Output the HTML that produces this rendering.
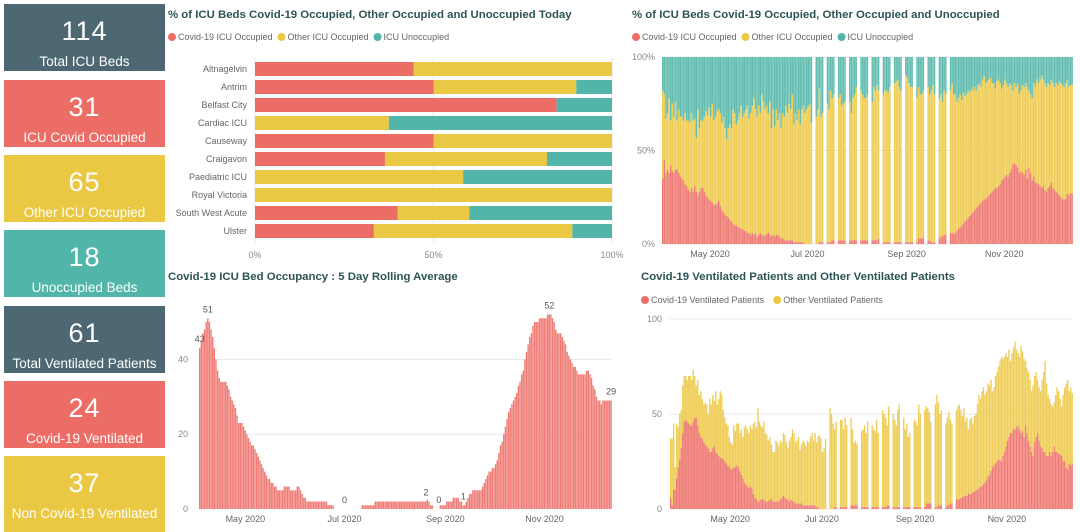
<!DOCTYPE html>
<html><head><meta charset="utf-8">
<style>
body{margin:0;width:1080px;height:532px;overflow:hidden;background:#fff;font-family:"Liberation Sans",sans-serif;position:relative}
.card{position:absolute;left:4px;width:161px;color:#fff;text-align:center}
.card .v{font-size:27px;line-height:27px;margin-top:14px;letter-spacing:1px}
.card .l{font-size:13.5px;margin-top:9px;white-space:nowrap}
svg{position:absolute;left:0;top:0}
svg text{font-family:"Liberation Sans",sans-serif}
</style></head><body>
<div class="card" style="top:4px;height:67px;background:#4e6873"><div class="v">114</div><div class="l">Total ICU Beds</div></div>
<div class="card" style="top:80px;height:67px;background:#ec6c66"><div class="v">31</div><div class="l">ICU Covid Occupied</div></div>
<div class="card" style="top:155px;height:67px;background:#eac843"><div class="v">65</div><div class="l">Other ICU Occupied</div></div>
<div class="card" style="top:230px;height:67px;background:#52b5a9"><div class="v">18</div><div class="l">Unoccupied Beds</div></div>
<div class="card" style="top:306px;height:67px;background:#4e6873"><div class="v">61</div><div class="l">Total Ventilated Patients</div></div>
<div class="card" style="top:381px;height:67px;background:#ec6c66"><div class="v">24</div><div class="l">Covid-19 Ventilated</div></div>
<div class="card" style="top:456px;height:76px;background:#eac843"><div class="v">37</div><div class="l">Non Covid-19 Ventilated</div></div>

<svg id="s" width="1080" height="532"></svg>
<script>
// ---------- data: hospital bar chart ----------
const hospitals=["Altnagelvin","Antrim","Belfast City","Cardiac ICU","Causeway","Craigavon","Paediatric ICU","Royal Victoria","South West Acute","Ulster"];
const hospCovid=[44.4,50,84.5,0,50,36.4,0,0,40,33.3];
const hospOther=[55.6,40,0,37.5,50,45.4,58.3,100,20,55.6];
const hospUnocc=[0,10,15.5,62.5,0,18.2,41.7,0,40,11.1];
const pctTicks=[0,50,100];
// ---------- data: rolling average (from 2020-04-03) ----------
const rollStart="2020-04-03";
const rollAvg=[43,45,47,48,50,51,50,48,46,43,40,37,35,34,34,34,34,33,32,30,29,28,27,25,23,23,23,22,
21,20,19,18,17,17,16,15,14,13,12,11,10,9,8,8,7,7,6,6,5,5,5,5,6,6,6,6,5,5,5,
5,6,6,5,4,3,3,2,2,2,2,2,2,2,2,2,2,2,2,2,1,1,1,1,0,0,0,0,0,0,
0,0,0,0,0,0,0,0,0,0,0,1,1,1,1,1,1,1,1,2,2,2,2,2,2,2,2,2,2,2,2,
2,2,2,2,2,2,2,2,2,2,2,2,2,2,2,2,2,2,2,2,2.5,2,1,1,0,0,0,0,1,1,1,
1,2,2,2,2,3,3,3,3,2,2,1,1,2,3,4,4,5,5,5,5,5,5,6,7,8,9,10,10,11,
11,12,13,15,17,18,20,22,24,26,27,28,29,30,31,33,34,36,37,40,42,44,46,47,49,50,50,50,51,51,51,
51,51,52,52,52,51,50,48,47,47,47,46,45,44,42,41,40,39,38,38,37,36,36,36,36,36,37,37,36,35,
33,32,30,29,29,28,29,29,29,29,29,29];
const rollLabelDates=["2020-04-03","2020-04-08","2020-07-01","2020-08-20","2020-08-28","2020-09-12","2020-11-04","2020-12-12"];
const rollTicks=[0,20,40];
const monthTicks=["2020-05-01","2020-07-01","2020-09-01","2020-11-01"];
const monthLabels=["May 2020","Jul 2020","Sep 2020","Nov 2020"];
const missingDates=["2020-07-04","2020-07-05","2020-07-11","2020-07-12","2020-07-18","2020-07-19","2020-07-25","2020-07-26","2020-08-01","2020-08-02","2020-08-08","2020-08-09","2020-08-15","2020-08-16","2020-08-22","2020-08-23","2020-08-29","2020-08-30","2020-09-05","2020-09-06","2020-09-12","2020-09-13","2020-09-19","2020-09-20","2020-09-26","2020-09-27"];
// ---------- data: % occupancy over time (from 2020-04-01) ----------
const pctStart="2020-04-01";
const pctCovid=[35,45,38,40,38,42,39,38,40,40,38,36,35,34,32,31,29,28,30,28,31,28,26,28,30,30,28,26,25,24,
23,22,21,21,22,23,20,18,17,16,15,14,13,12,11,10,10,9,9,8,8,7,7,6,6,5,6,5,6,4,5,
6,5,4,5,5,6,5,4,5,4,5,5,4,3,3,2,2,2,2,2,2,1,1,1,1,1,1,1,0,0,
0,0,0,0,0,0,0,1,1,1,1,1,1,1,1,2,2,2,2,2,2,2,2,2,2,2,2,2,2,2,2,
2,2,2,2,2,2,2,2,2,2,2,2,2,3,3,2,1,1,1,1,1,1,1,1,1,1,1,1,1,1,1,
1,1,1,1,1,1,1,3,3,3,3,3,2,2,2,1,1,1,2,2,3,4,4,5,5,5,5,6,6,5,
6,7,8,9,10,11,12,13,14,15,16,17,18,19,20,21,22,23,24,24,25,26,27,28,29,30,30,31,32,34,35,
36,37,36,38,40,43,43,42,41,38,39,38,37,40,35,41,38,34,36,33,33,32,31,30,31,29,28,30,31,33,
30,29,28,27,26,25,24,24,24,27,26,27,27];
const pctOccupied=[82,80,67,70,78,66,75,68,76,66,72,68,68,66,70,66,66,65,70,66,67,57,72,62,66,66,68,71,69,73,
68,75,66,68,71,72,70,65,68,62,56,62,64,62,72,70,64,66,70,74,68,70,72,74,67,70,74,78,72,68,74,
70,80,76,72,74,70,76,62,72,63,72,66,70,62,70,68,74,70,75,72,80,64,70,66,72,64,72,74,70,72,
74,75,65,70,70,68,72,83,68,70,74,70,75,72,82,78,80,86,80,78,80,74,75,76,78,80,76,70,78,80,84,
84,84,82,80,78,78,80,80,80,76,84,82,85,82,80,78,80,82,82,81,84,88,80,86,87,88,84,82,88,87,90,
89,86,84,84,80,77,78,84,80,80,82,84,85,84,80,82,85,80,74,68,78,80,76,82,80,84,80,82,86,80,
80,76,78,80,77,81,79,80,82,81,83,82,84,82,85,86,84,88,90,86,87,88,89,86,86,83,87,88,86,83,85,
88,86,84,86,85,82,86,84,86,80,82,85,84,86,84,82,80,78,86,84,88,86,88,90,88,86,84,86,85,88,
86,84,86,85,87,86,85,84,86,88,84,85,85];
// ---------- data: ventilated patients (from 2020-03-22) ----------
const ventStart="2020-03-22";
const ventCovid=[6,2,10,10,16,22,26,32,40,46,
47,46,45,44,44,46,48,48,44,40,38,37,35,34,33,32,30,30,32,33,30,29,28,27,27,26,25,24,23,22,
21,21,22,22,23,22,20,18,16,14,13,12,11,12,11,8,6,5,4,4,5,5,5,4,4,4,5,5,4,4,4,
4,4,5,6,7,6,5,5,4,5,4,4,3,3,3,3,3,2,2,2,2,2,2,2,2,2,1,1,0,0,
0,0,0,0,0,0,0,0,1,1,1,1,1,1,1,1,1,1,1,2,2,2,2,2,2,1,1,1,1,1,1,
1,1,1,1,1,1,1,1,1,1,1,1,2,2,2,2,1,1,1,1,1,1,1,1,1,1,1,1,1,1,1,
1,1,1,1,1,1,1,3,3,3,3,3,1,1,1,2,2,2,3,3,1,2,2,3,3,4,4,5,5,5,
6,6,7,7,7,8,8,8,9,9,10,10,11,12,12,13,14,15,17,18,20,22,23,24,25,26,26,25,28,30,33,
36,38,40,40,42,42,43,44,42,40,41,38,44,40,36,33,30,28,35,38,40,36,33,32,30,30,28,28,30,28,
30,33,30,30,29,29,28,25,25,22,21,24,23,24];
const ventTotal=[37,37,45,22,45,43,50,52,65,70,
70,68,70,70,68,73,70,65,68,60,62,58,55,56,55,50,58,55,60,57,62,55,58,62,60,52,48,45,44,38,
35,34,44,41,45,45,40,42,38,43,44,42,40,44,42,45,46,43,53,46,44,43,46,40,39,36,38,34,30,30,36,
35,33,36,35,40,39,35,32,36,38,42,40,35,36,38,31,34,36,35,33,36,35,38,40,36,40,35,38,39,37,
30,32,37,36,52,53,50,45,42,46,50,45,47,47,42,48,44,40,38,48,42,35,36,34,34,40,41,42,44,40,46,
40,38,44,42,41,47,40,38,44,52,50,48,44,54,53,52,50,47,44,52,55,58,50,48,42,45,38,40,46,50,47,
46,44,55,50,48,49,52,54,53,51,46,45,48,55,60,56,50,52,51,44,45,48,51,47,45,46,50,52,54,55,
52,49,53,46,48,42,47,48,45,49,50,55,60,58,62,64,60,62,66,65,68,62,64,70,72,75,78,80,79,80,82,
80,84,78,82,85,88,84,82,80,86,83,79,78,74,72,68,62,65,70,72,68,64,62,68,72,78,66,60,58,55,
54,56,60,64,62,58,54,60,64,66,68,62,64,61];
const ventTicks=[0,50,100];

const RED="#ec6c66",YEL="#eac843",TEAL="#52b5a9",GRID="#e8e8e8",AX="#888",TITLE="#2d5454";
const S=document.getElementById('s');const NS="http://www.w3.org/2000/svg";
function el(t,a,txt){const e=document.createElementNS(NS,t);for(const k in a)e.setAttribute(k,a[k]);if(txt!=null)e.textContent=txt;S.appendChild(e);return e;}
const DAY=86400000;function dnum(s){return Date.parse(s+"T00:00:00Z")/DAY;}
function addDays(s,i){return new Date((dnum(s)+i)*DAY).toISOString().slice(0,10);}
const missSet=new Set(missingDates);

function title(x,y,t,n){const e=el('text',{x:x,y:y,'font-size':11.4,'font-weight':'bold',fill:TITLE},t);}
function legend(x,y,items,n){let cx=x;items.forEach(it=>{const c=el('circle',{cx:cx+4,cy:y-3,r:4,fill:it[1]});const t=el('text',{x:cx+10,y:y,'font-size':9,fill:'#666'},it[0]);cx+=10+it[0].length*it[2]+6;});}

// ===== Chart 1: horizontal bars =====
title(168,18,"% of ICU Beds Covid-19 Occupied, Other Occupied and Unoccupied Today","hospital-chart-title");
legend(168,40,[["Covid-19 ICU Occupied",RED,4.45],["Other ICU Occupied",YEL,4.45],["ICU Unoccupied",TEAL,4.45]],"hospital-legend");
const bx0=255,bx1=612;const bxs=v=>bx0+(bx1-bx0)*v/100;
pctTicks.forEach(t=>{const g=el('line',{x1:bxs(t),x2:bxs(t),y1:58,y2:243,stroke:GRID});
 const l=el('text',{x:bxs(t),y:258,'font-size':9,fill:AX,'text-anchor':'middle'},t+'%');});
hospitals.forEach((h,i)=>{const cy=69+i*18;
 const l=el('text',{x:247,y:cy+3,'font-size':9,fill:'#666','text-anchor':'end'},h);
 let acc=0;[[hospCovid[i],RED],[hospOther[i],YEL],[hospUnocc[i],TEAL]].forEach(p=>{if(p[0]>0){const r=el('rect',{x:bxs(acc),y:cy-7,width:bxs(acc+p[0])-bxs(acc),height:14,fill:p[1]});}acc+=p[0];});});

// ===== Chart 2: rolling avg =====
title(168,280,"Covid-19 ICU Bed Occupancy : 5 Day Rolling Average","rolling-chart-title");
const rs=dnum(rollStart),rN=rollAvg.length;const rx0=199,rx1=612,rstep=(rx1-rx0)/rN;
const rX=d=>rx0+(d-rs+0.5)*rstep;const rY=v=>509-v*3.74;
rollTicks.forEach(t=>{if(t>0){const g=el('line',{x1:rx0,x2:rx1,y1:rY(t),y2:rY(t),stroke:GRID});}
 const l=el('text',{x:188,y:rY(t)+3,'font-size':9,fill:AX,'text-anchor':'end'},t);});
rollAvg.forEach((v,i)=>{const x=rX(rs+i);const r=el('rect',{x:x-rstep/2,y:rY(v),width:rstep*0.85,height:v*3.74,fill:'#ef7b74'});});
rollLabelDates.forEach(d=>{const i=dnum(d)-rs;const v=rollAvg[i];const t=el('text',{x:rX(dnum(d)),y:rY(v)-6,'font-size':9,fill:'#555','text-anchor':'middle'},Math.round(v));});
monthTicks.forEach((d,i)=>{const t=el('text',{x:rX(dnum(d)),y:522,'font-size':9,fill:'#666','text-anchor':'middle'},monthLabels[i]);});

// ===== Chart 3: % over time =====
title(632,18,"% of ICU Beds Covid-19 Occupied, Other Occupied and Unoccupied","pct-time-chart-title");
legend(632,40,[["Covid-19 ICU Occupied",RED,4.45],["Other ICU Occupied",YEL,4.45],["ICU Unoccupied",TEAL,4.45]],"pct-time-legend");
const ps=dnum(pctStart),pN=pctCovid.length;const px0=662,px1=1073,pstep=(px1-px0)/pN;
const pX=d=>px0+(d-ps)*pstep;const pY=v=>244-v*1.87;
pctTicks.forEach(t=>{const g=el('line',{x1:px0,x2:px1,y1:pY(t),y2:pY(t),stroke:GRID});
 const l=el('text',{x:655,y:pY(t)+3,'font-size':9,fill:AX,'text-anchor':'end'},t+'%');});
pctCovid.forEach((c,i)=>{const d=addDays(pctStart,i);if(missSet.has(d))return;const x=pX(ps+i),w=pstep*0.9;const o=pctOccupied[i];
 const r1=el('rect',{x:x,y:pY(c),width:w,height:c*1.87,fill:'#ef7b74'});
 const r2=el('rect',{x:x,y:pY(o),width:w,height:(o-c)*1.87,fill:'#efcd55'});
 const r3=el('rect',{x:x,y:pY(100),width:w,height:(100-o)*1.87,fill:'#62bdb1'});});
monthTicks.forEach((d,i)=>{const t=el('text',{x:pX(dnum(d)),y:257,'font-size':9,fill:'#666','text-anchor':'middle'},monthLabels[i]);});

// ===== Chart 4: ventilated =====
title(641,280,"Covid-19 Ventilated Patients and Other Ventilated Patients","vent-chart-title");
legend(641,303,[["Covid-19 Ventilated Patients",RED,4.15],["Other Ventilated Patients",YEL,4.15]],"vent-legend");
const vs=dnum(ventStart),vN=ventCovid.length;const vx0=670,vx1=1073,vstep=(vx1-vx0)/vN;
const vX=d=>vx0+(d-vs)*vstep;const vY=v=>509-v*1.9;
ventTicks.forEach(t=>{const g=el('line',{x1:vx0,x2:vx1,y1:vY(t),y2:vY(t),stroke:GRID});
 const l=el('text',{x:662,y:vY(t)+3,'font-size':9,fill:AX,'text-anchor':'end'},t);});
ventCovid.forEach((c,i)=>{const d=addDays(ventStart,i);if(missSet.has(d))return;const x=vX(vs+i),w=vstep*0.9;const tot=ventTotal[i];
 const r1=el('rect',{x:x,y:vY(c),width:w,height:c*1.9,fill:'#ef7b74'});
 const r2=el('rect',{x:x,y:vY(tot),width:w,height:(tot-c)*1.9,fill:'#efcd55'});});
monthTicks.forEach((d,i)=>{const t=el('text',{x:vX(dnum(d)),y:522,'font-size':9,fill:'#666','text-anchor':'middle'},monthLabels[i]);});
</script>
</body></html>
